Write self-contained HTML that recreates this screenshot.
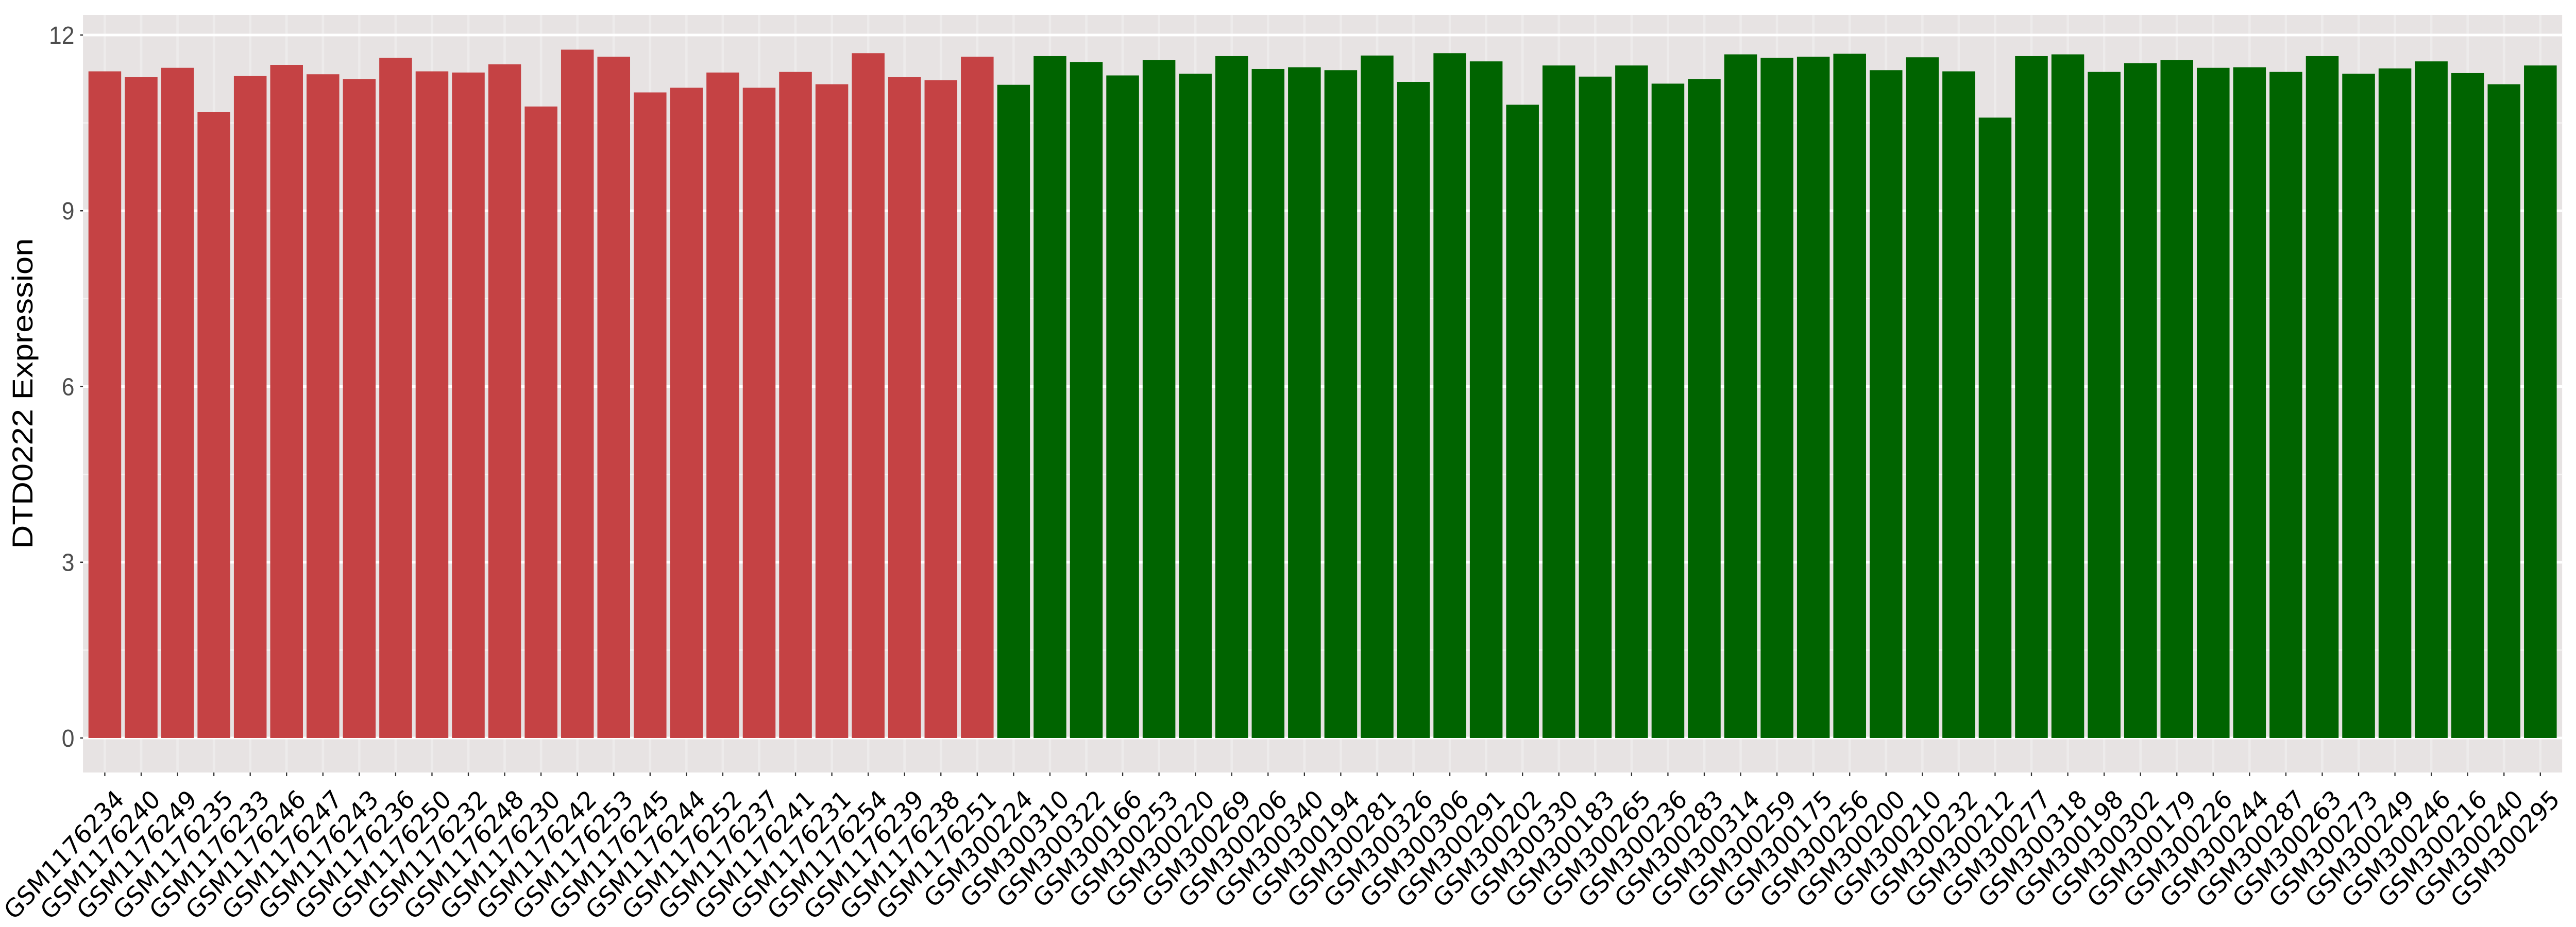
<!DOCTYPE html>
<html><head><meta charset="utf-8"><style>
html,body{margin:0;padding:0;background:#fff;overflow:hidden;}
svg{display:block;width:100vw;height:100vh;}
</style></head><body>
<svg id="chart" xmlns="http://www.w3.org/2000/svg" viewBox="0 0 5400 1800" preserveAspectRatio="none">
<rect x="174" y="29" width="5197" height="1471" fill="#E7E3E3"/>
<g id="grid"></g>
<g id="bars"></g>
<g id="yaxis"></g>
<g id="xaxis"></g>
<text transform="translate(68,764) rotate(-90)" text-anchor="middle" font-family="Liberation Sans, DejaVu Sans, sans-serif" font-size="60" fill="#000" textLength="603" lengthAdjust="spacingAndGlyphs">DTD0222 Expression</text>
</svg>
<script>
const categories = ["GSM1176234","GSM1176240","GSM1176249","GSM1176235","GSM1176233","GSM1176246","GSM1176247","GSM1176243","GSM1176236","GSM1176250","GSM1176232","GSM1176248","GSM1176230","GSM1176242","GSM1176253","GSM1176245","GSM1176244","GSM1176252","GSM1176237","GSM1176241","GSM1176231","GSM1176254","GSM1176239","GSM1176238","GSM1176251",
"GSM300224","GSM300310","GSM300322","GSM300166","GSM300253","GSM300220","GSM300269","GSM300206","GSM300340","GSM300194","GSM300281","GSM300326","GSM300306","GSM300291","GSM300202","GSM300330","GSM300183","GSM300265","GSM300236","GSM300283","GSM300314","GSM300259","GSM300175","GSM300256","GSM300200","GSM300210","GSM300232","GSM300212","GSM300277","GSM300318","GSM300198","GSM300302","GSM300179","GSM300226","GSM300244","GSM300287","GSM300263","GSM300273","GSM300249","GSM300246","GSM300216","GSM300240","GSM300295"];
const values = [11.38,11.28,11.44,10.69,11.30,11.49,11.33,11.25,11.61,11.38,11.36,11.50,10.78,11.75,11.63,11.02,11.10,11.36,11.10,11.37,11.16,11.69,11.28,11.23,11.63,
11.15,11.64,11.54,11.31,11.57,11.34,11.64,11.42,11.45,11.40,11.65,11.20,11.69,11.55,10.81,11.48,11.29,11.48,11.17,11.25,11.67,11.61,11.63,11.68,11.40,11.62,11.38,10.59,11.64,11.67,11.37,11.52,11.57,11.44,11.45,11.37,11.64,11.34,11.43,11.55,11.35,11.16,11.48];
const groups = ["tumor","normal"];
const groupCounts = [25,43];
const yTicks = [0,3,6,9,12];
const yMinor = [1.5,4.5,7.5,10.5];

const NS="http://www.w3.org/2000/svg";
const PL=174, PR=5371, PT=29, PB=1500;
const n=categories.length;
const step=(PR-PL)/(n+0.2);
function xScale(i){return PL+(i+0.6)*step;}
function yScale(v){return 1433-v*(1433-68)/12;}
function mk(tag,attrs,parent){const e=document.createElementNS(NS,tag);for(const k in attrs)e.setAttribute(k,attrs[k]);parent.appendChild(e);return e;}
const grid=document.getElementById('grid'),bars=document.getElementById('bars'),ya=document.getElementById('yaxis'),xa=document.getElementById('xaxis');
yMinor.forEach(v=>{const l=mk('line',{x1:PL,x2:PR,y1:yScale(v),y2:yScale(v),stroke:'#F4F2F2','stroke-width':2.5},grid);

});
categories.forEach((c,i)=>{const l=mk('line',{x1:xScale(i),x2:xScale(i),y1:PT,y2:PB,stroke:'#EDEBEB','stroke-width':5},grid);

});
yTicks.forEach(v=>{const l=mk('line',{x1:PL,x2:PR,y1:yScale(v),y2:yScale(v),stroke:'#FFFFFF','stroke-width':5},grid);


const t=mk('line',{x1:PL-6,x2:PL,y1:yScale(v),y2:yScale(v),stroke:'#333','stroke-width':2.5},ya);


const tx=mk('text',{x:PL-18,y:yScale(v)+17,'text-anchor':'end','font-family':'Liberation Sans, sans-serif','font-size':48,fill:'#4D4D4D'},ya);
tx.textContent=String(v);

});
const bw=step*0.9;
categories.forEach((c,i)=>{const g=i<groupCounts[0]?0:1;const col=g===0?'#C54244':'#006400';
const y=yScale(values[i]);
const r=mk('rect',{x:xScale(i)-bw/2,y:y,width:bw,height:yScale(0)-y,fill:col},bars);


const t=mk('line',{x1:xScale(i),x2:xScale(i),y1:PB,y2:PB+7,stroke:'#333','stroke-width':2.5},xa);


const len=c.length===10?330:297;
const tx=mk('text',{transform:'translate('+(xScale(i)+43)+',1555) rotate(-45)','text-anchor':'end','font-family':'DejaVu Sans, sans-serif','font-size':49,fill:'#000',textLength:len,lengthAdjust:'spacingAndGlyphs'},xa);
tx.textContent=c;

});
</script>
</body></html>
